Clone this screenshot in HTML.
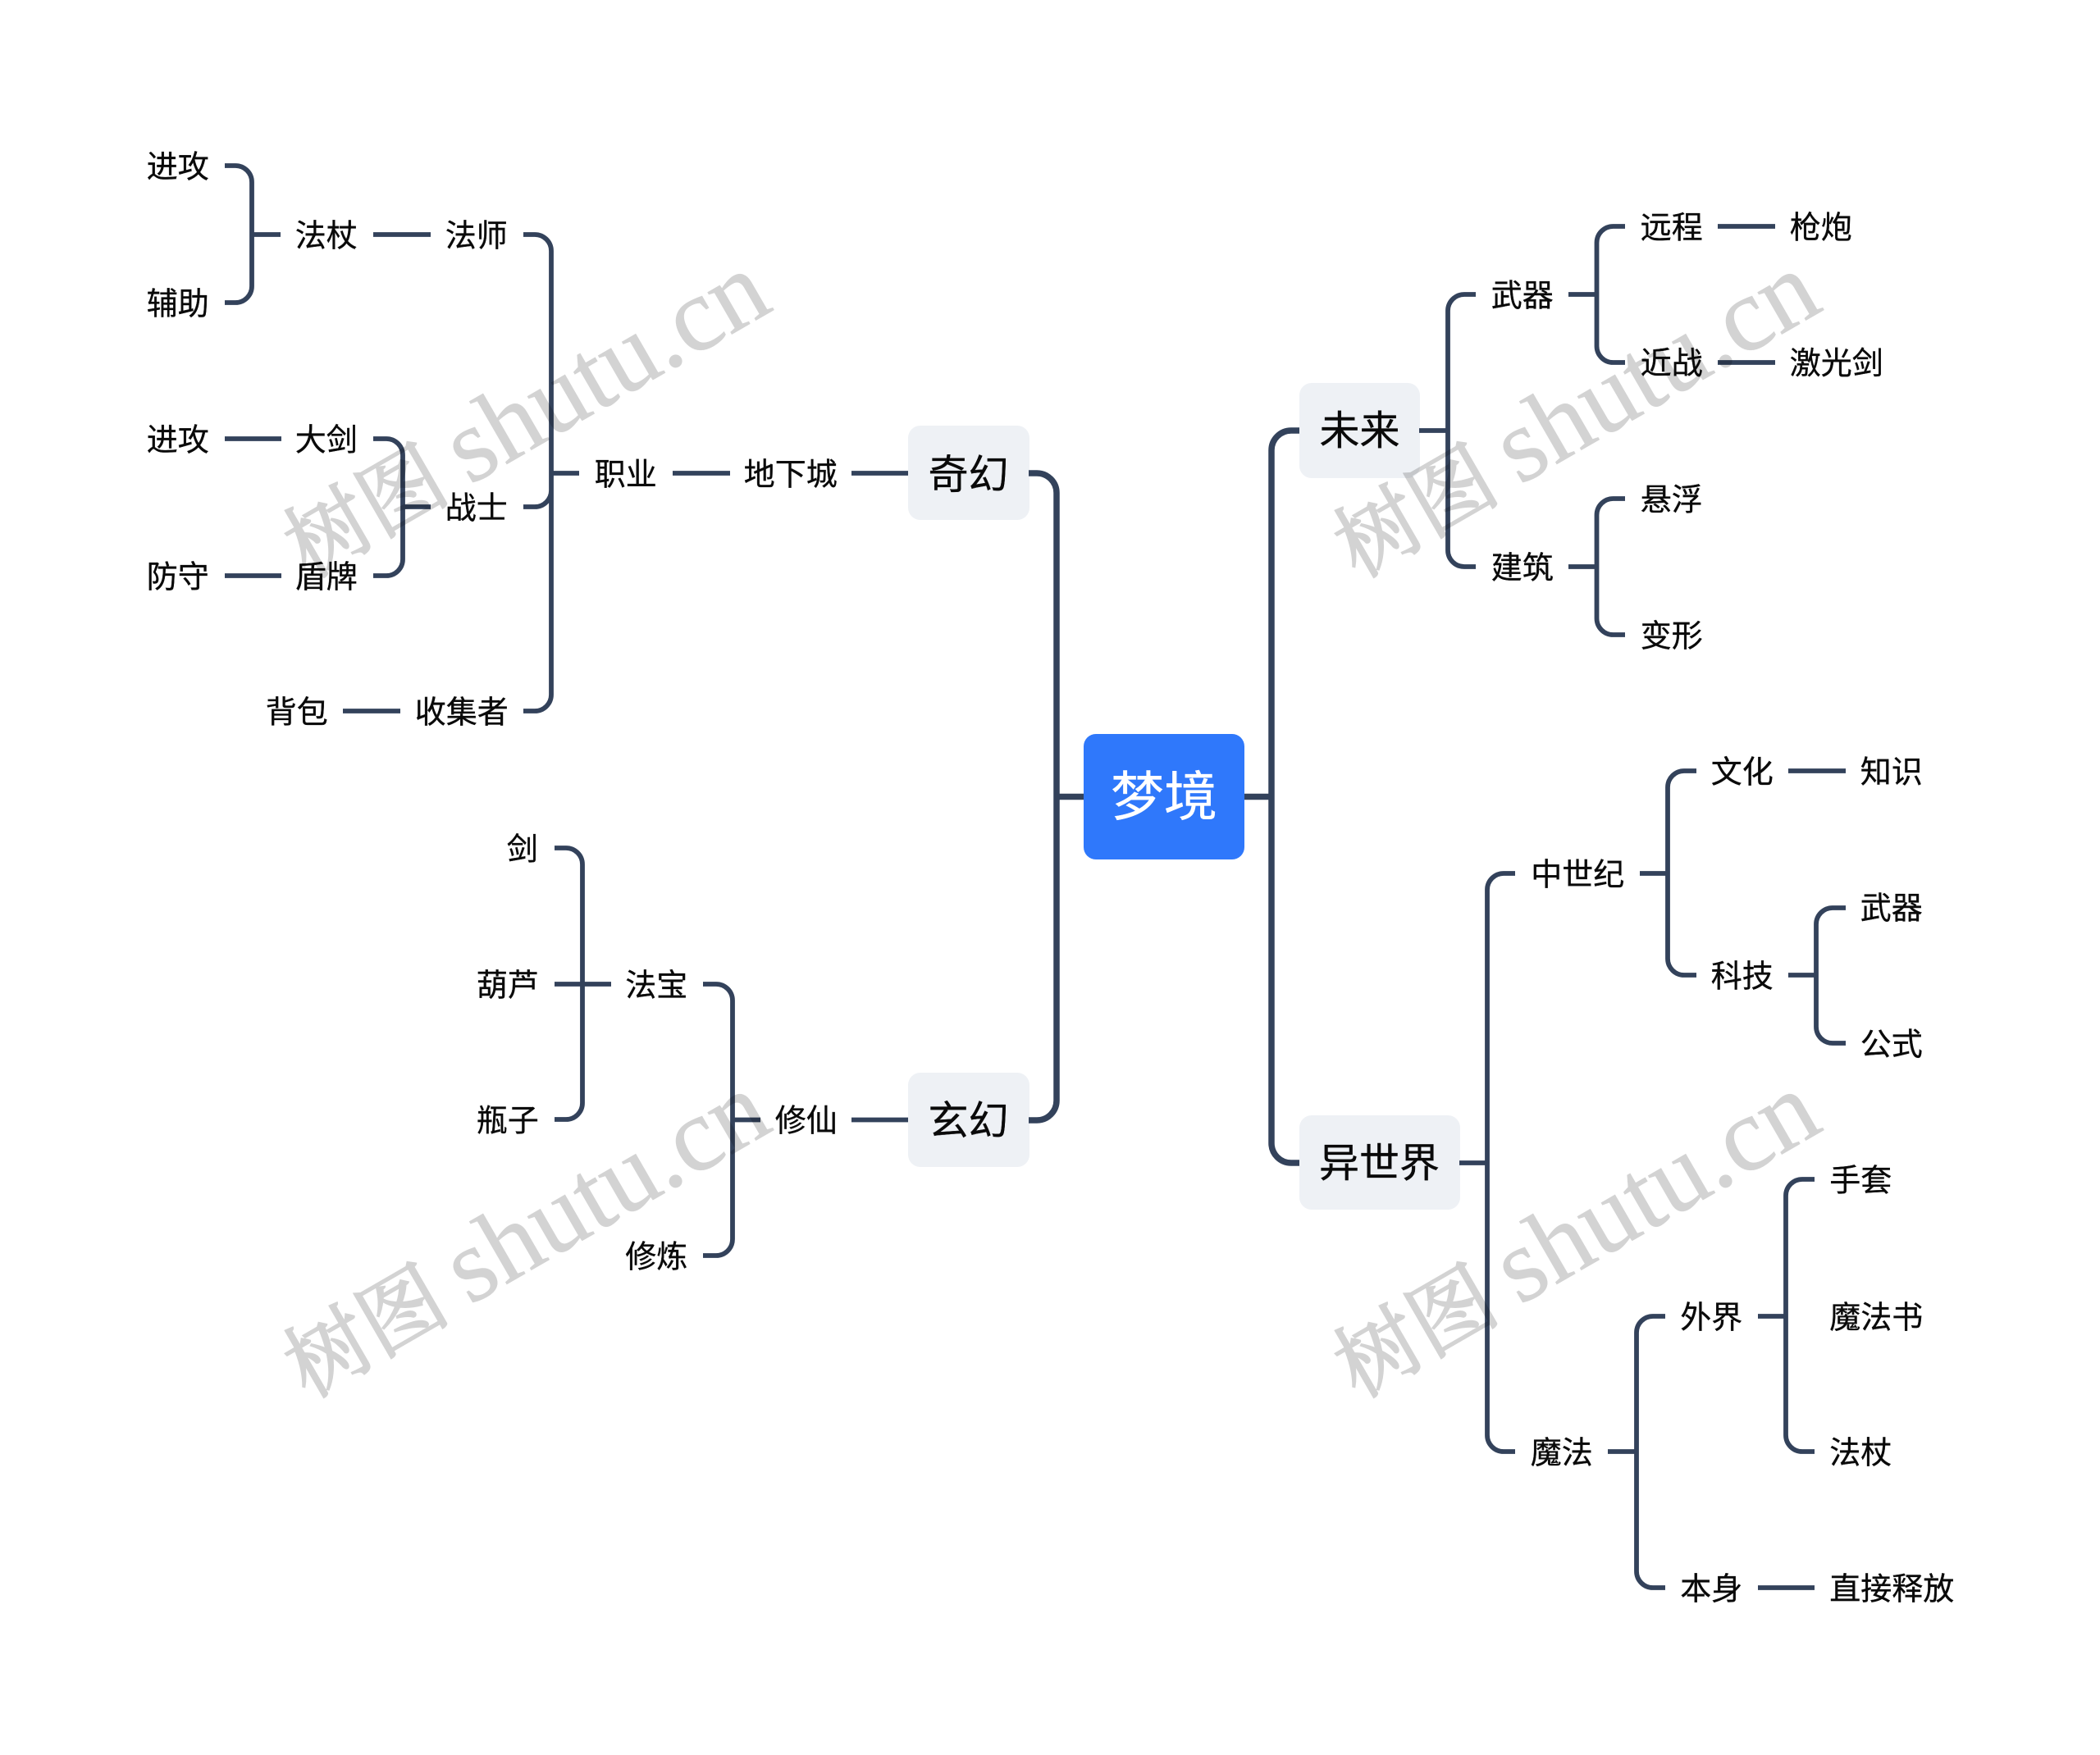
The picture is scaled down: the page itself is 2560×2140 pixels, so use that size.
<!DOCTYPE html>
<html><head><meta charset="utf-8">
<style>
html,body{margin:0;padding:0;background:#fff;width:2560px;height:2140px;overflow:hidden}
svg{display:block}
text{font-family:"Liberation Sans","WenQuanYi Zen Hei","Noto Sans CJK SC",sans-serif;fill:#0a0a0a;stroke:#0a0a0a;stroke-width:.35}
.t{font-size:38px}
.m{font-size:49px}
.r{font-size:65px;fill:#fff;stroke:#fff}
.w{font-family:"Liberation Serif","Noto Serif CJK SC",serif;font-size:128px;fill:#000;stroke:#000;stroke-width:.8;opacity:.17;word-spacing:-8px}
.w tspan.c{font-size:102px;stroke-width:2.2}
.a{fill:none;stroke:#33425b;stroke-width:7.5}
.b{fill:none;stroke:#33425b;stroke-width:5.8}
</style></head><body>
<svg xmlns="http://www.w3.org/2000/svg" width="2560" height="2140" viewBox="0 0 2560 2140">
<rect x="1321" y="895" width="196" height="153" rx="15" fill="#2f78fb"/>
<rect x="1107" y="519" width="148" height="115" rx="15" fill="#eef1f5"/>
<rect x="1107" y="1308" width="148" height="115" rx="15" fill="#eef1f5"/>
<rect x="1584" y="467" width="147" height="116" rx="15" fill="#eef1f5"/>
<rect x="1584" y="1360" width="196" height="115" rx="15" fill="#eef1f5"/>

<path class="a" d="M1254 577H1264A24 24 0 0 1 1288 601V1342A24 24 0 0 1 1264 1366H1254M1288 971.5H1321"/>
<path class="a" d="M1584 525H1574A24 24 0 0 0 1550 549V1394A24 24 0 0 0 1574 1418H1584M1517 971.5H1550"/>

<!-- left top -->
<path class="b" d="M274 202H287A20 20 0 0 1 307 222V349A20 20 0 0 1 287 369H274M307 286H342"/>
<path class="b" d="M455 286H525"/>
<path class="b" d="M638 286H652A20 20 0 0 1 672 306V847A20 20 0 0 1 652 867H638M672 577H706M638 618H652A20 20 0 0 0 672 598"/>
<path class="b" d="M274 535H343M274 702H343"/>
<path class="b" d="M455 535H471A20 20 0 0 1 491 555V682A20 20 0 0 1 471 702H455M491 618H525"/>
<path class="b" d="M418 867H488"/>
<path class="b" d="M820 577H890M1038 577H1107"/>

<!-- left bottom -->
<path class="b" d="M676 1034H690A20 20 0 0 1 710 1054V1345A20 20 0 0 1 690 1365H676M676 1200H745"/>
<path class="b" d="M857 1200H873A20 20 0 0 1 893 1220V1511A20 20 0 0 1 873 1531H857M893 1365.5H927"/>
<path class="b" d="M1038 1365.5H1107"/>

<!-- right top -->
<path class="b" d="M1730 525H1765M1799 359H1785A20 20 0 0 0 1765 379V671A20 20 0 0 0 1785 691H1799"/>
<path class="b" d="M1912 359H1946.5M1981 276H1966.5A20 20 0 0 0 1946.5 296V422A20 20 0 0 0 1966.5 442H1981"/>
<path class="b" d="M1912 691H1946.5M1981 608H1966.5A20 20 0 0 0 1946.5 628V754A20 20 0 0 0 1966.5 774H1981"/>
<path class="b" d="M2094 276H2164M2094 442H2164"/>

<!-- right bottom -->
<path class="b" d="M1779 1418H1813M1847 1065H1833A20 20 0 0 0 1813 1085V1750A20 20 0 0 0 1833 1770H1847"/>
<path class="b" d="M1999 1065H2033M2068 940H2053A20 20 0 0 0 2033 960V1169A20 20 0 0 0 2053 1189H2068"/>
<path class="b" d="M2180 940H2250M2180 1189H2214M2250 1107H2234A20 20 0 0 0 2214 1127V1252A20 20 0 0 0 2234 1272H2250"/>
<path class="b" d="M1960 1770H1995M2030 1605H2015A20 20 0 0 0 1995 1625V1916A20 20 0 0 0 2015 1936H2030"/>
<path class="b" d="M2143 1605H2177M2212 1438H2197A20 20 0 0 0 2177 1458V1750A20 20 0 0 0 2197 1770H2212M2143 1936H2212"/>

<text class="r" x="1419" y="994" text-anchor="middle">梦境</text>
<text class="m" x="1180.5" y="595.5" text-anchor="middle">奇幻</text>
<text class="m" x="1180.5" y="1383.5" text-anchor="middle">玄幻</text>
<text class="m" x="1657.5" y="542" text-anchor="middle">未来</text>
<text class="m" x="1681.5" y="1435" text-anchor="middle">异世界</text>

<g transform="translate(-1.2 .4)">
<text class="t" x="180" y="216">进攻</text>
<text class="t" x="180" y="383">辅助</text>
<text class="t" x="361" y="300">法杖</text>
<text class="t" x="544" y="300">法师</text>
<text class="t" x="180" y="549">进攻</text>
<text class="t" x="361" y="549">大剑</text>
<text class="t" x="544" y="632">战士</text>
<text class="t" x="180" y="716">防守</text>
<text class="t" x="361" y="716">盾牌</text>
<text class="t" x="325" y="881">背包</text>
<text class="t" x="507" y="881">收集者</text>
<text class="t" x="726" y="591">职业</text>
<text class="t" x="908" y="591">地下城</text>
<text class="t" x="619" y="1048">剑</text>
<text class="t" x="582" y="1214">葫芦</text>
<text class="t" x="582" y="1379">瓶子</text>
<text class="t" x="763.5" y="1214">法宝</text>
<text class="t" x="763.5" y="1545">修炼</text>
<text class="t" x="946" y="1379">修仙</text>

<text class="t" x="1819" y="373">武器</text>
<text class="t" x="1819" y="705">建筑</text>
<text class="t" x="2001" y="290">远程</text>
<text class="t" x="2001" y="455.5">近战</text>
<text class="t" x="2001" y="622">悬浮</text>
<text class="t" x="2001" y="788">变形</text>
<text class="t" x="2183" y="290">枪炮</text>
<text class="t" x="2183" y="455.5">激光剑</text>

<text class="t" x="1867.5" y="1079">中世纪</text>
<text class="t" x="2087" y="954">文化</text>
<text class="t" x="2087" y="1203">科技</text>
<text class="t" x="2269" y="954">知识</text>
<text class="t" x="2269" y="1120">武器</text>
<text class="t" x="2269" y="1286">公式</text>
<text class="t" x="1867" y="1784">魔法</text>
<text class="t" x="2049.5" y="1619">外界</text>
<text class="t" x="2049.5" y="1950">本身</text>
<text class="t" x="2231.5" y="1452">手套</text>
<text class="t" x="2231.5" y="1619">魔法书</text>
<text class="t" x="2231.5" y="1784">法杖</text>
<text class="t" x="2231.5" y="1950">直接释放</text>
</g>

<text class="w" transform="translate(375 706) rotate(-30)"><tspan class="c">树图</tspan> shutu.cn</text>
<text class="w" transform="translate(1655 706) rotate(-30)"><tspan class="c">树图</tspan> shutu.cn</text>
<text class="w" transform="translate(375 1706) rotate(-30)"><tspan class="c">树图</tspan> shutu.cn</text>
<text class="w" transform="translate(1655 1706) rotate(-30)"><tspan class="c">树图</tspan> shutu.cn</text>
</svg>
</body></html>
